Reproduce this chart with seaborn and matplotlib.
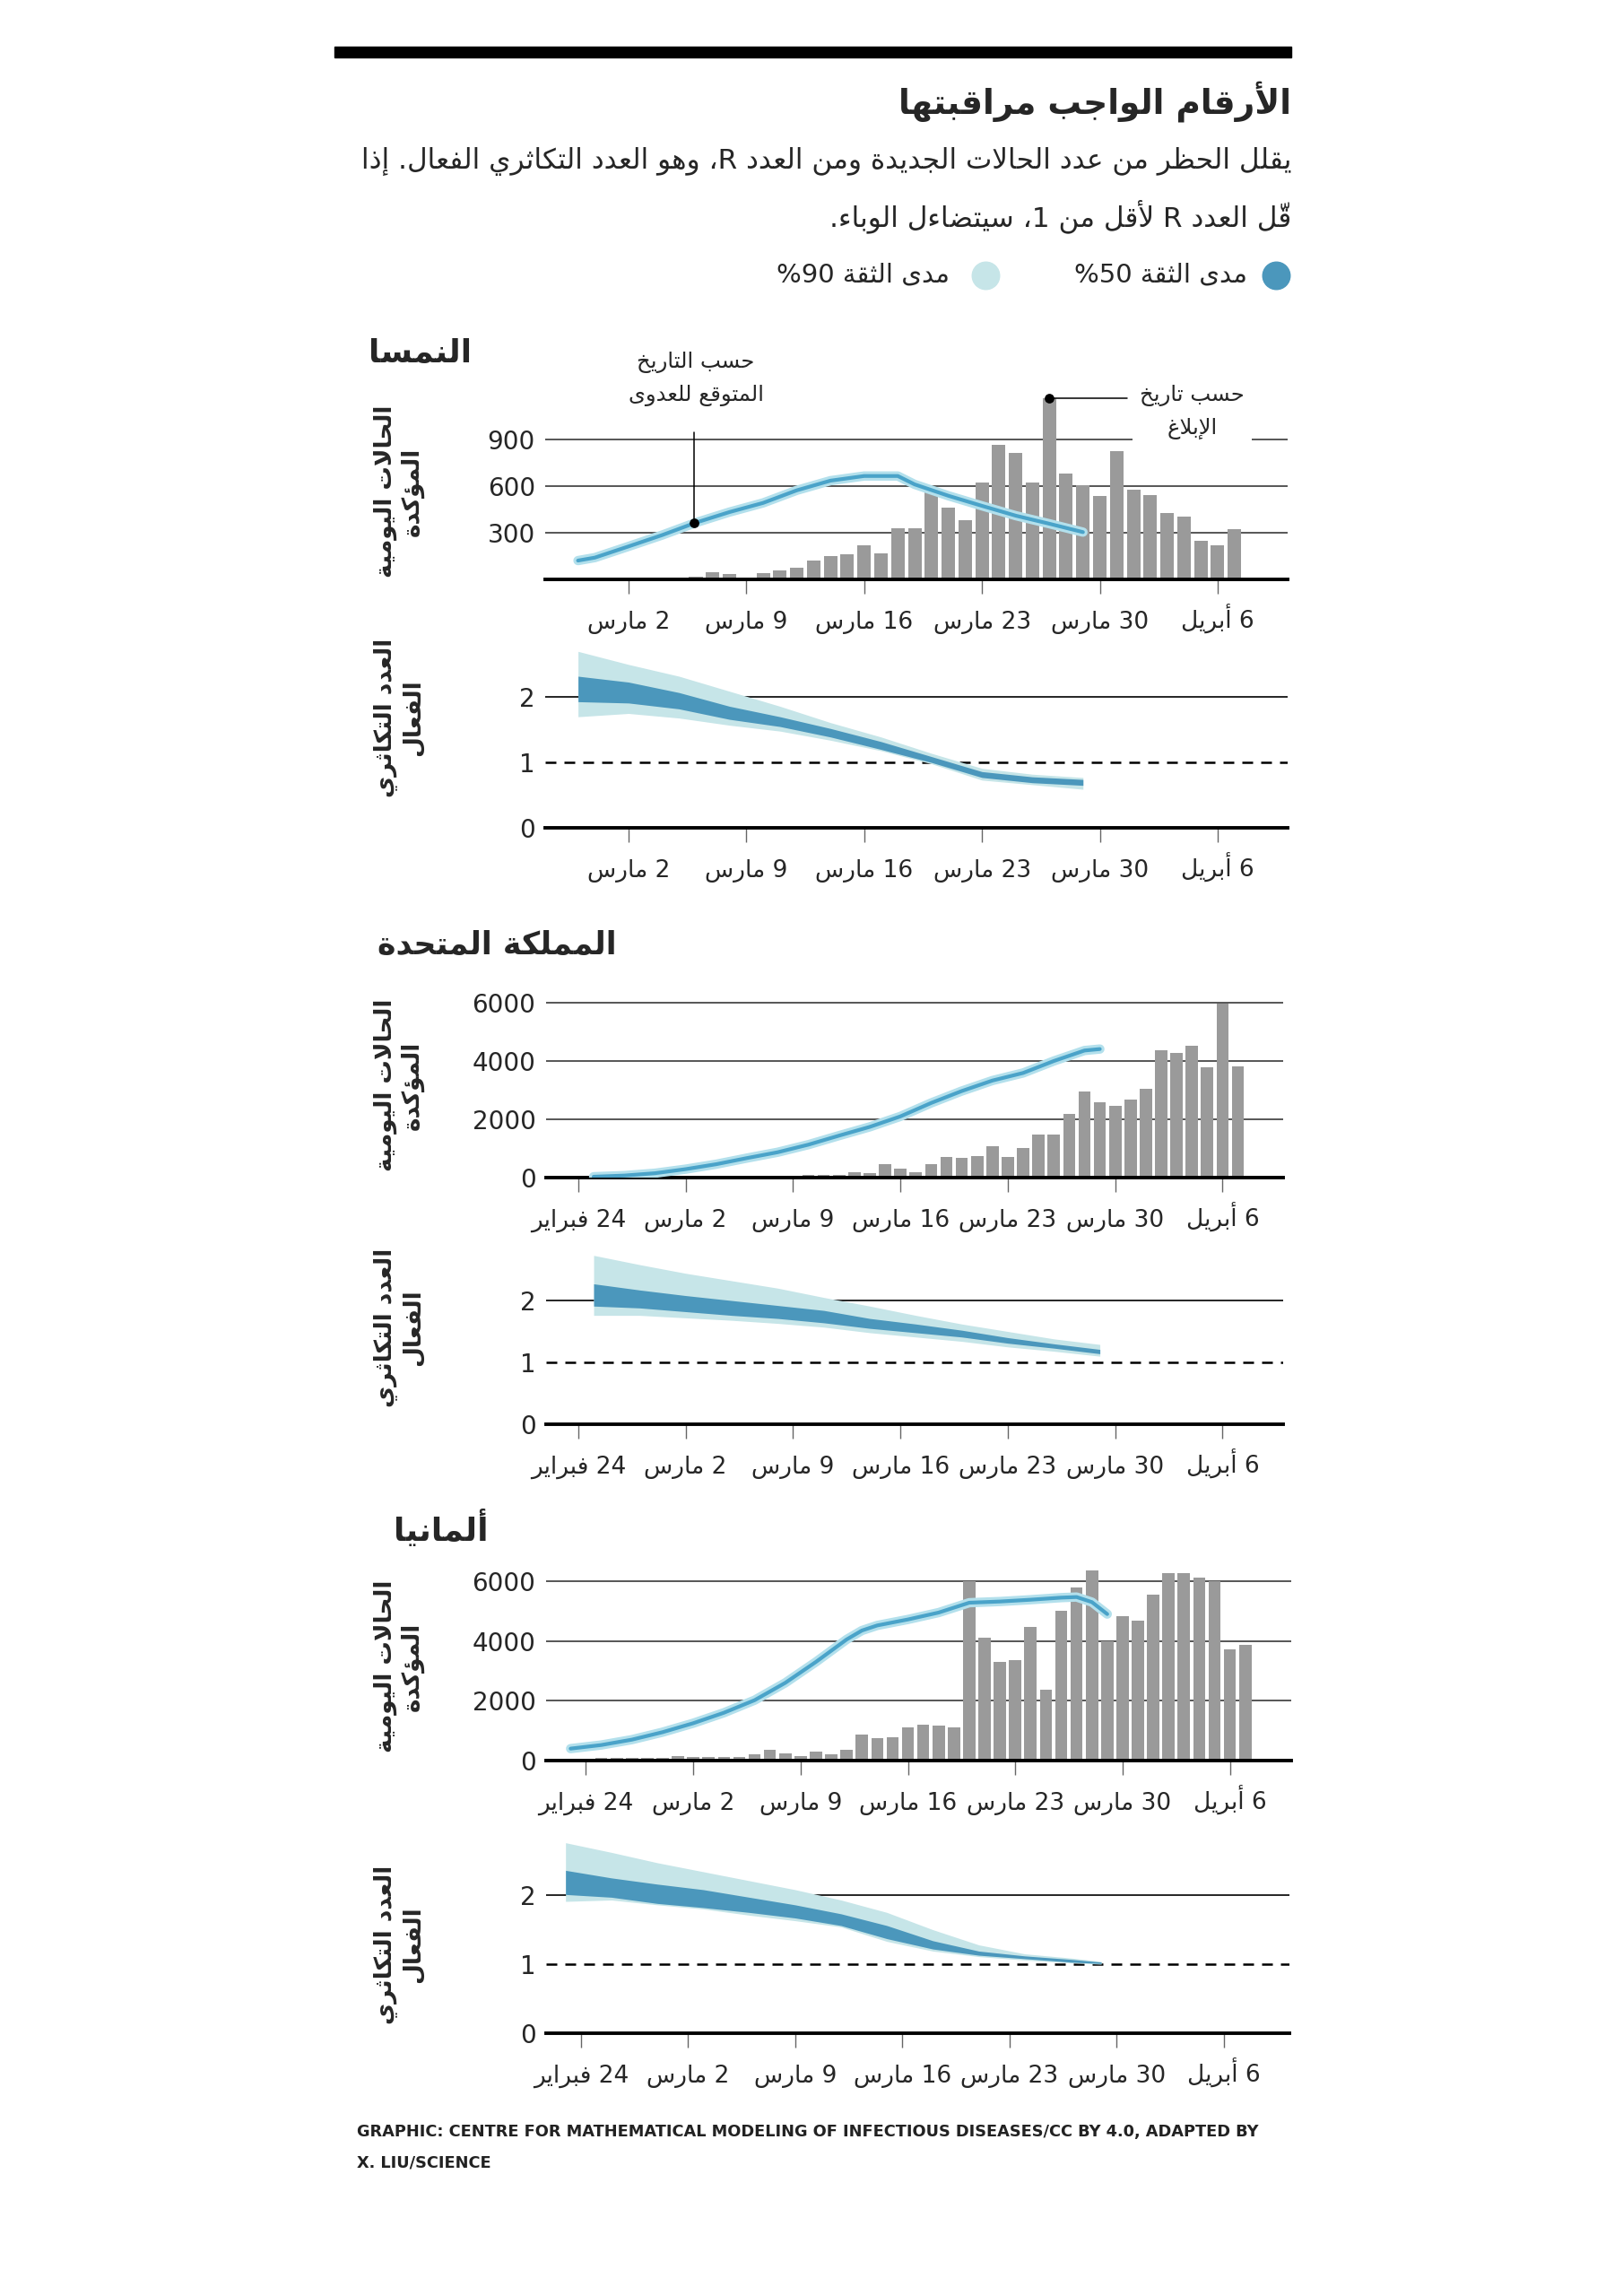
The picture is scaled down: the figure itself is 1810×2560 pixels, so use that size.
import matplotlib
matplotlib.use('Agg')
import matplotlib.pyplot as plt
from matplotlib.lines import Line2D
from matplotlib.patches import Rectangle
import seaborn as sns

# Days are counted from 24 Feb 2020 (day 0)
TICK_DAYS = [0, 7, 14, 21, 28, 35, 42]
TICK_LABELS = ['24 فبراير', '2 مارس', '9 مارس', '16 مارس', '23 مارس', '30 مارس', '6 أبريل']

# Austria
at_bar_days = list(range(5, 44))
at_bar_cases = [3, 4, 4, 6, 6, 8, 19, 44, 35, 6, 42, 60, 73, 121, 148, 160, 217, 165, 327, 327,
                563, 463, 383, 621, 867, 811, 621, 1163, 683, 606, 537, 823, 579, 542, 429, 406,
                246, 221, 323]
at_curve_days = [4, 5, 7, 9, 11, 13, 15, 17, 19, 21, 23, 24, 26, 28, 30, 32, 34]
at_curve_cases = [121, 140, 212, 285, 365, 433, 492, 573, 635, 665, 665, 611, 538, 473, 410, 358, 304]
at_r_days = [4, 7, 10, 13, 16, 19, 22, 25, 28, 31, 34]
at_r_lo90 = [1.70, 1.75, 1.68, 1.57, 1.48, 1.34, 1.18, 0.98, 0.73, 0.66, 0.59]
at_r_hi90 = [2.70, 2.50, 2.32, 2.09, 1.86, 1.61, 1.39, 1.14, 0.91, 0.82, 0.77]
at_r_lo50 = [1.93, 1.91, 1.82, 1.66, 1.55, 1.39, 1.20, 1.00, 0.77, 0.69, 0.65]
at_r_hi50 = [2.32, 2.23, 2.07, 1.86, 1.70, 1.52, 1.32, 1.09, 0.86, 0.78, 0.74]

# United Kingdom
uk_bar_days = list(range(10, 44))
uk_bar_cases = [30, 40, 50, 55, 70, 80, 90, 100, 185, 154, 462, 308, 185, 462, 718, 687, 738,
                1077, 718, 1026, 1467, 1487, 2174, 2944, 2595, 2462, 2667, 3056, 4359, 4287,
                4533, 3774, 5969, 3826]
uk_curve_days = [1, 3, 5, 7, 9, 11, 13, 15, 17, 19, 21, 23, 25, 27, 29, 31, 33, 34]
uk_curve_cases = [30, 70, 150, 290, 460, 670, 870, 1130, 1440, 1740, 2100, 2560, 2970, 3330,
                  3590, 4000, 4360, 4410]
uk_r_days = [1, 4, 7, 10, 13, 16, 19, 22, 25, 28, 31, 34]
uk_r_lo90 = [1.76, 1.76, 1.72, 1.68, 1.63, 1.57, 1.48, 1.41, 1.34, 1.25, 1.18, 1.10]
uk_r_hi90 = [2.73, 2.58, 2.44, 2.32, 2.20, 2.05, 1.91, 1.76, 1.62, 1.50, 1.38, 1.29]
uk_r_lo50 = [1.91, 1.88, 1.82, 1.76, 1.71, 1.64, 1.55, 1.48, 1.41, 1.31, 1.23, 1.14]
uk_r_hi50 = [2.27, 2.17, 2.08, 2.00, 1.92, 1.84, 1.71, 1.62, 1.52, 1.40, 1.30, 1.21]

# Germany
de_bar_days = list(range(1, 44))
de_bar_cases = [80, 80, 80, 80, 100, 150, 120, 120, 120, 130, 200, 350, 230, 150, 300, 220, 350,
                870, 750, 780, 1100, 1200, 1180, 1100, 6000, 4100, 3300, 3370, 4470, 2380, 5020,
                5800, 6350, 4000, 4820, 4670, 5540, 6280, 6280, 6130, 6000, 3720, 3880]
de_curve_days = [-1, 1, 3, 5, 7, 9, 11, 13, 15, 17, 18, 19, 21, 23, 25, 27, 29, 31, 32, 33, 34]
de_curve_cases = [400, 520, 700, 950, 1250, 1600, 2020, 2600, 3300, 4050, 4350, 4520, 4720, 4950,
                  5280, 5320, 5380, 5450, 5470, 5300, 4900]
de_r_days = [-1, 2, 5, 8, 11, 14, 17, 20, 23, 26, 29, 32, 34]
de_r_lo90 = [1.91, 1.93, 1.86, 1.80, 1.71, 1.63, 1.54, 1.33, 1.19, 1.11, 1.06, 1.02, 1.00]
de_r_hi90 = [2.76, 2.62, 2.47, 2.34, 2.21, 2.08, 1.93, 1.75, 1.50, 1.28, 1.15, 1.09, 1.04]
de_r_lo50 = [2.01, 1.97, 1.88, 1.82, 1.75, 1.67, 1.56, 1.37, 1.22, 1.13, 1.08, 1.03, 1.01]
de_r_hi50 = [2.36, 2.25, 2.16, 2.08, 1.97, 1.86, 1.73, 1.56, 1.34, 1.19, 1.12, 1.07, 1.03]

# Colours
BAR = '#9a9a9a'
DARK = '#4b97bc'
LIGHT = '#c6e5e8'
LINE = '#4aa3c9'
HALO = '#b3e0ec'

# --- Arabic shaping: matplotlib draws glyphs left to right with no joining,
# so pick the presentation forms by hand and reverse into visual order.
_FORMS = [('ء', 0xFE80, 1), ('آ', 0xFE81, 2), ('أ', 0xFE83, 2), ('ؤ', 0xFE85, 2),
          ('إ', 0xFE87, 2), ('ئ', 0xFE89, 4), ('ا', 0xFE8D, 2), ('ب', 0xFE8F, 4),
          ('ة', 0xFE93, 2), ('ت', 0xFE95, 4), ('ث', 0xFE99, 4), ('ج', 0xFE9D, 4),
          ('ح', 0xFEA1, 4), ('خ', 0xFEA5, 4), ('د', 0xFEA9, 2), ('ذ', 0xFEAB, 2),
          ('ر', 0xFEAD, 2), ('ز', 0xFEAF, 2), ('س', 0xFEB1, 4), ('ش', 0xFEB5, 4),
          ('ص', 0xFEB9, 4), ('ض', 0xFEBD, 4), ('ط', 0xFEC1, 4), ('ظ', 0xFEC5, 4),
          ('ع', 0xFEC9, 4), ('غ', 0xFECD, 4), ('ف', 0xFED1, 4), ('ق', 0xFED5, 4),
          ('ك', 0xFED9, 4), ('ل', 0xFEDD, 4), ('م', 0xFEE1, 4), ('ن', 0xFEE5, 4),
          ('ه', 0xFEE9, 4), ('و', 0xFEED, 2), ('ى', 0xFEEF, 2), ('ي', 0xFEF1, 4)]
FORMS = {c: (b, n) for c, b, n in _FORMS}
LAM_ALEF = {'آ': 0xFEF5, 'أ': 0xFEF7, 'إ': 0xFEF9, 'ا': 0xFEFB}
MARKS = set(chr(c) for c in range(0x064B, 0x0653))


def shape_line(s):
    toks = []
    i = 0
    while i < len(s):
        c = s[i]
        if c in MARKS and toks:
            toks[-1]['marks'] += c
            i += 1
            continue
        if c == 'ل' and i + 1 < len(s) and s[i + 1] in LAM_ALEF:
            toks.append({'base': LAM_ALEF[s[i + 1]], 'n': 2, 'marks': '', 'ch': None})
            i += 2
            continue
        if c in FORMS:
            b, n = FORMS[c]
            toks.append({'base': b, 'n': n, 'marks': '', 'ch': None})
        else:
            toks.append({'base': None, 'n': 0, 'marks': '', 'ch': c})
        i += 1

    clusters = []
    for k, t in enumerate(toks):
        if t['base'] is None:
            clusters.append(t['ch'] + t['marks'])
            continue
        prev_j = k > 0 and toks[k - 1]['n'] == 4
        next_j = t['n'] == 4 and k + 1 < len(toks) and toks[k + 1]['n'] >= 2
        if t['n'] == 1:
            form = 0
        elif t['n'] == 2:
            form = 1 if prev_j else 0
        else:
            form = {(False, False): 0, (True, False): 1,
                    (False, True): 2, (True, True): 3}[(prev_j, next_j)]
        # mark goes first so it lands over its letter once drawn left to right
        clusters.append(t['marks'] + chr(t['base'] + form))

    # keep latin/digit runs in reading order, reverse the rest
    items = []
    run = ''
    for c in clusters:
        if len(c) == 1 and c.isascii() and c.isalnum():
            run += c
        else:
            if run:
                items.append(run)
                run = ''
            items.append(c)
    if run:
        items.append(run)
    return ''.join(reversed(items))


def ar(text):
    return '\n'.join(shape_line(line) for line in text.split('\n'))


# --- Figure
sns.set_style('white')
plt.rcParams['font.family'] = ['DejaVu Sans']

W, H = 1810, 2560
fig = plt.figure(figsize=(W / 100, H / 100), dpi=100)


def px_axes(left, top, right, bottom):
    return fig.add_axes([left / W, 1 - bottom / H, (right - left) / W, (bottom - top) / H])


def ftext(x, y, s, **kw):
    return fig.text(x / W, 1 - y / H, s, **kw)


def finish(ax, xlim, ylim, yticks, tick_days, tick_labels):
    ax.set_xlim(*xlim)
    ax.set_ylim(*ylim)
    ax.set_xticks(tick_days)
    ax.set_xticklabels([ar(t) for t in tick_labels])
    for lab in ax.get_xticklabels():
        lab.set_va('baseline')
    ax.set_yticks(yticks)
    ax.set_yticklabels([str(v) for v in yticks])
    ax.set_xlabel('')
    ax.set_ylabel('')
    sns.despine(ax=ax, left=True)
    ax.spines['bottom'].set_linewidth(2.8)
    ax.spines['bottom'].set_color('black')
    ax.tick_params(axis='x', bottom=True, direction='out', length=11.5, width=1,
                   color='#666666', pad=28, labelsize=19)
    ax.tick_params(axis='y', left=False, length=0, pad=8, labelsize=20)


def draw_cases(ax, bar_days, bar_vals, curve_days, curve_vals, yticks):
    sns.barplot(x=bar_days, y=bar_vals, native_scale=True, color=BAR, saturation=1,
                width=0.8, errorbar=None, linewidth=0, ax=ax, zorder=2)
    sns.lineplot(x=curve_days, y=curve_vals, color=HALO, linewidth=7.5, ax=ax, zorder=3)
    sns.lineplot(x=curve_days, y=curve_vals, color=LINE, linewidth=3, ax=ax, zorder=4)
    ax.set_yticks(yticks)
    ax.grid(axis='y', color='#3a3a3a', linewidth=1.2)
    ax.grid(axis='x', visible=False)
    ax.set_axisbelow(True)


def draw_r(ax, days, lo90, hi90, lo50, hi50):
    ax.axhline(2, color='black', linewidth=1.2, zorder=1)
    ax.axhline(1, color='black', linewidth=1.8, linestyle=(0, (4.8, 3.6)), zorder=1)
    ax.fill_between(days, lo90, hi90, color=LIGHT, linewidth=0, zorder=2)
    ax.fill_between(days, lo50, hi50, color=DARK, linewidth=0, zorder=3)


# 1. Header
fig.add_artist(Rectangle((373 / W, 1 - 64 / H), (1440 - 373) / W, 12 / H,
                         transform=fig.transFigure, color='black'))
ftext(1440, 113, ar('الأرقام الواجب مراقبتها'), ha='right', va='center',
      fontsize=27, weight='bold')
ftext(1440, 180, ar('يقلل الحظر من عدد الحالات الجديدة ومن العدد R، وهو العدد التكاثري الفعال. إذا'),
      ha='right', va='center', fontsize=22.4)
ftext(1440, 241, ar('قّل العدد R لأقل من 1، سيتضاءل الوباء.'),
      ha='right', va='center', fontsize=22.4)
fig.add_artist(Line2D([1423 / W], [1 - 307 / H], marker='o', ms=22, color=DARK,
                      transform=fig.transFigure))
ftext(1391, 307, ar('مدى الثقة 50%'), ha='right', va='center', fontsize=21)
fig.add_artist(Line2D([1099 / W], [1 - 307 / H], marker='o', ms=22, color=LIGHT,
                      transform=fig.transFigure))
ftext(1059, 307, ar('مدى الثقة 90%'), ha='right', va='center', fontsize=21)

CASES_LABEL = ar('الحالات اليومية\nالمؤكدة')
R_LABEL = ar('العدد التكاثري\nالفعال')

# 2. Austria
ftext(411, 394, ar('النمسا'), ha='left', va='center', fontsize=26, weight='bold')
ax = px_axes(608, 438, 1436, 646)
draw_cases(ax, at_bar_days, at_bar_cases, at_curve_days, at_curve_cases, [300, 600, 900])
finish(ax, (2.05, 46.16), (0, 1200), [300, 600, 900], TICK_DAYS[1:], TICK_LABELS[1:])
ax.plot([10.9, 10.9], [946, 361], color='black', linewidth=1.1, zorder=5)
ax.scatter([10.9], [361], s=45, color='black', zorder=6)
ax.text(11.0, 1290, ar('حسب التاريخ\nالمتوقع للعدوى'), ha='center', va='center',
        fontsize=17.5, linespacing=1.6)
ax.plot([32, 36.6], [1163, 1163], color='black', linewidth=1.1, zorder=5)
ax.scatter([32], [1163], s=45, color='black', zorder=6)
ax.text(40.5, 1075, ar('حسب تاريخ\nالإبلاغ'), ha='center', va='center', fontsize=17.5,
        linespacing=1.6, zorder=6, bbox=dict(fc='white', ec='none', pad=6))
ftext(445, 548, CASES_LABEL, rotation=90, ha='center', va='center', fontsize=19,
      weight='bold', linespacing=1.2)

ax = px_axes(608, 719, 1436, 923)
draw_r(ax, at_r_days, at_r_lo90, at_r_hi90, at_r_lo50, at_r_hi50)
finish(ax, (2.05, 46.16), (0, 2.8), [0, 1, 2], TICK_DAYS[1:], TICK_LABELS[1:])
ftext(445, 800, R_LABEL, rotation=90, ha='center', va='center', fontsize=19,
      weight='bold', linespacing=1.2)

# 3. United Kingdom
ftext(421, 1054, ar('المملكة المتحدة'), ha='left', va='center', fontsize=25, weight='bold')
ax = px_axes(608.5, 1105, 1431, 1313)
draw_cases(ax, uk_bar_days, uk_bar_cases, uk_curve_days, uk_curve_cases, [0, 2000, 4000, 6000])
finish(ax, (-2.13, 45.95), (0, 6400), [0, 2000, 4000, 6000], TICK_DAYS, TICK_LABELS)
ftext(445, 1210, CASES_LABEL, rotation=90, ha='center', va='center', fontsize=19,
      weight='bold', linespacing=1.2)

ax = px_axes(608.5, 1388, 1431, 1588)
draw_r(ax, uk_r_days, uk_r_lo90, uk_r_hi90, uk_r_lo50, uk_r_hi50)
finish(ax, (-2.13, 45.95), (0, 2.9), [0, 1, 2], TICK_DAYS, TICK_LABELS)
ftext(445, 1480, R_LABEL, rotation=90, ha='center', va='center', fontsize=19,
      weight='bold', linespacing=1.2)

# 4. Germany
ftext(439, 1704, ar('ألمانيا'), ha='left', va='center', fontsize=26, weight='bold')
ax = px_axes(608.5, 1743, 1440, 1963)
draw_cases(ax, de_bar_days, de_bar_cases, de_curve_days, de_curve_cases, [0, 2000, 4000, 6000])
finish(ax, (-2.63, 46.0), (0, 6600), [0, 2000, 4000, 6000], TICK_DAYS, TICK_LABELS)
ftext(445, 1858, CASES_LABEL, rotation=90, ha='center', va='center', fontsize=19,
      weight='bold', linespacing=1.2)

ax = px_axes(608.5, 2040, 1438, 2267)
draw_r(ax, de_r_days, de_r_lo90, de_r_hi90, de_r_lo50, de_r_hi50)
finish(ax, (-2.3, 46.3), (0, 2.95), [0, 1, 2], TICK_DAYS, TICK_LABELS)
ftext(445, 2168, R_LABEL, rotation=90, ha='center', va='center', fontsize=19,
      weight='bold', linespacing=1.2)

# 5. Source line
ftext(398, 2377, 'GRAPHIC: CENTRE FOR MATHEMATICAL MODELING OF INFECTIOUS DISEASES/CC BY 4.0, ADAPTED BY',
      ha='left', va='center', fontsize=12.8, weight='bold', color='#222222')
ftext(398, 2411, 'X. LIU/SCIENCE', ha='left', va='center', fontsize=12.8, weight='bold',
      color='#222222')

fig.savefig('out.png', dpi=100, facecolor='white')
